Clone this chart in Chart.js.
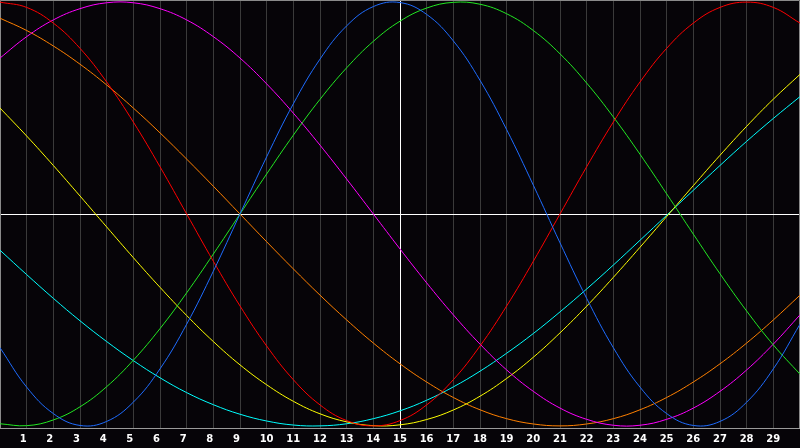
<!DOCTYPE html>
<html>
<head>
<meta charset="utf-8">
<script src="https://cdn.jsdelivr.net/npm/chart.js@4/dist/chart.umd.min.js"></script>
<style>
html,body{margin:0;padding:0;background:#060408;}
canvas{display:block;}
</style>
</head>
<body>
<canvas id="c" width="800" height="448"></canvas>
<script>
// Day labels (index 0 and 30 are the plot edges, unlabeled)
const dayLabels = ['', '1','2','3','4','5','6','7','8','9','10','11','12','13','14','15','16','17','18','19','20','21','22','23','24','25','26','27','28','29', ''];

// Series values (range -1 .. 1), one per day 0..30
const physical23 = [-0.631,-0.817,-0.942,-0.998,-0.979,-0.888,-0.731,-0.520,-0.270,0,0.270,0.520,0.731,0.888,0.979,0.998,0.942,0.817,0.631,0.398,0.136,-0.136,-0.398,-0.631,-0.817,-0.942,-0.998,-0.979,-0.888,-0.731,-0.520];
const emotional28 = [1,0.975,0.901,0.782,0.623,0.434,0.223,0,-0.223,-0.434,-0.623,-0.782,-0.901,-0.975,-1,-0.975,-0.901,-0.782,-0.623,-0.434,-0.223,0,0.223,0.434,0.623,0.782,0.901,0.975,1,0.975,0.901];
const intellectual33 = [-0.990,-0.999,-0.972,-0.910,-0.815,-0.690,-0.541,-0.372,-0.189,0,0.189,0.372,0.541,0.690,0.815,0.910,0.972,0.999,0.990,0.945,0.866,0.756,0.618,0.458,0.282,0.095,-0.095,-0.282,-0.458,-0.618,-0.756];
const intuitive38 = [0.736,0.837,0.916,0.969,0.997,0.997,0.969,0.916,0.837,0.736,0.614,0.476,0.325,0.165,0,-0.165,-0.325,-0.476,-0.614,-0.736,-0.837,-0.916,-0.969,-0.997,-0.997,-0.969,-0.916,-0.837,-0.736,-0.614,-0.476];
const aesthetic43 = [0.500,0.368,0.229,0.085,-0.061,-0.206,-0.346,-0.479,-0.602,-0.712,-0.806,-0.884,-0.943,-0.981,-0.999,-0.995,-0.970,-0.925,-0.860,-0.776,-0.676,-0.561,-0.435,-0.299,-0.157,-0.012,0.134,0.277,0.414,0.542,0.659];
const awareness48 = [0.924,0.866,0.793,0.707,0.609,0.500,0.383,0.259,0.131,0,-0.131,-0.259,-0.383,-0.500,-0.609,-0.707,-0.793,-0.866,-0.924,-0.966,-0.991,-1,-0.991,-0.966,-0.924,-0.866,-0.793,-0.707,-0.609,-0.500,-0.383];
const spiritual53 = [-0.171,-0.286,-0.398,-0.504,-0.602,-0.692,-0.773,-0.843,-0.900,-0.945,-0.977,-0.996,-1.000,-0.990,-0.966,-0.929,-0.879,-0.816,-0.742,-0.657,-0.564,-0.462,-0.354,-0.241,-0.124,-0.006,0.112,0.229,0.343,0.451,0.554];

const todayIndex = 15;

const seriesList = [
  {name:'Physical', data: physical23, color:'#1e6cff'},
  {name:'Emotional', data: emotional28, color:'#ff0000'},
  {name:'Intellectual', data: intellectual33, color:'#22e822'},
  {name:'Intuitive', data: intuitive38, color:'#ff00ff'},
  {name:'Aesthetic', data: aesthetic43, color:'#ffff00'},
  {name:'Awareness', data: awareness48, color:'#ff8000'},
  {name:'Spiritual', data: spiritual53, color:'#00ffff'}
];

const bgPlugin = {
  id:'bg',
  beforeDraw(chart){
    const c = chart.ctx;
    c.save();
    c.fillStyle = '#060408';
    c.fillRect(0,0,chart.width,chart.height);
    c.restore();
  },
  beforeDatasetsDraw(chart){
    const a = chart.chartArea, c = chart.ctx;
    c.save();
    c.strokeStyle = '#8a8a8a';
    c.lineWidth = 1;
    c.beginPath();
    c.moveTo(a.left+0.5, a.bottom);
    c.lineTo(a.left+0.5, a.top+0.5);
    c.lineTo(a.right-0.5, a.top+0.5);
    c.lineTo(a.right-0.5, a.bottom);
    c.stroke();
    c.restore();
  }
};

new Chart(document.getElementById('c'), {
  type:'line',
  data:{
    labels: dayLabels,
    datasets: seriesList.map(s => ({
      label: s.name,
      data: s.data,
      borderColor: s.color,
      borderWidth: 1,
      pointRadius: 0,
      pointHoverRadius: 0,
      pointHitRadius: 0,
      fill: false,
      tension: 0.4
    }))
  },
  options:{
    responsive:false,
    animation:false,
    layout:{autoPadding:false, padding:0},
    plugins:{legend:{display:false}, tooltip:{enabled:false}, title:{display:false}},
    scales:{
      x:{
        type:'category',
        offset:false,
        afterFit: scale => { scale.height = 20; },
        grid:{
          color: ctx => ctx.index === todayIndex ? '#ffffff' : '#3a3a3a',
          lineWidth:1,
          drawTicks:false
        },
        border:{display:true, color:'#9a9a9a', width:1},
        ticks:{
          color:'#ffffff',
          font:{family:'DejaVu Sans', size:10, weight:'bold', lineHeight:2.2},
          padding:0,
          align:'start',
          labelOffset:-7,
          autoSkip:false,
          maxRotation:0,
          minRotation:0
        }
      },
      y:{
        min:-1.01,
        max:1.01,
        ticks:{display:false, stepSize:1},
        grid:{
          color: ctx => (ctx.tick && ctx.tick.value === 0) ? '#ffffff' : 'rgba(0,0,0,0)',
          drawTicks:false,
          lineWidth:1
        },
        border:{display:false}
      }
    }
  },
  plugins:[bgPlugin]
});
</script>
</body>
</html>
